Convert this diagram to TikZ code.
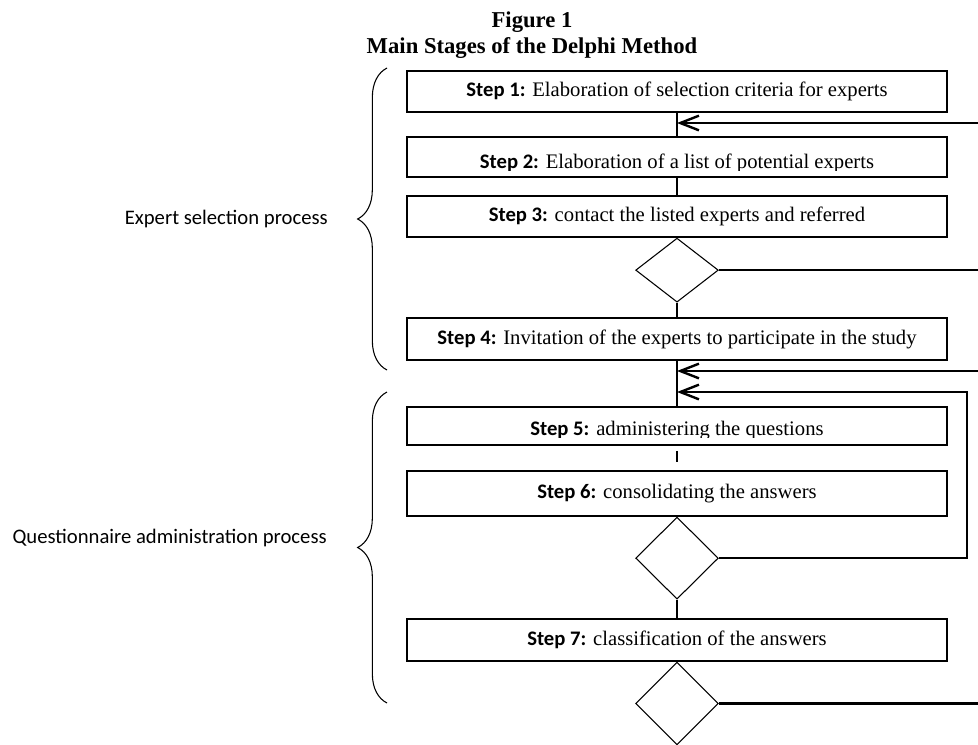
\documentclass[tikz,border=0pt]{standalone}
\usepackage{fontspec}
\setmainfont{Liberation Serif}
\newfontfamily\calibri{Carlito}
\usepackage{tikz}
\usetikzlibrary{shapes.geometric,arrows.meta,decorations.pathreplacing,calc}
\newcommand{\stp}[1]{{\calibri\bfseries Step #1:}}

\begin{document}
\begin{tikzpicture}[x=0.75pt,y=-0.75pt,font=\fontsize{15.5}{18}\selectfont,
  stepbox/.style={draw,line width=0.9pt,minimum width=405pt,inner sep=0pt},
  decide/.style={draw,diamond,line width=0.8pt,minimum width=62pt,inner sep=0pt},
  link/.style={line width=0.8pt},
  back/.style={line width=1.8pt,-{Straight Barb[length=14pt,width=11pt]}},
  outline/.style={line width=1.8pt},
  curly/.style={decorate,decoration={brace,amplitude=22pt},line width=0.8pt},
  side/.style={font=\calibri\fontsize{15.5}{18}\selectfont,anchor=east,inner sep=0pt}]
\useasboundingbox (0,0) rectangle (978,744);
\node[font=\bfseries\fontsize{17}{19.5}\selectfont,align=center,anchor=north,inner sep=0pt] (title) at (532,11) {Figure 1\\Main Stages of the Delphi Method};

% expert selection
\node[stepbox,minimum height=30.75pt] (s1) at (677,91.5) {\stp{1} Elaboration of selection criteria for experts};
\node[stepbox,minimum height=30pt] (s2) at (677,157) {};
\node[stepbox,minimum height=30.75pt] (s3) at (677,216.5) {\stp{3} contact the listed experts and referred};
\node[decide,minimum height=48pt,anchor=north] (d1) at (s3.south) {};
\node[stepbox,minimum height=31.5pt] (s4) at (677,339) {\stp{4} Invitation of the experts to participate in the study};
% questionnaire rounds
\node[stepbox,minimum height=28.5pt] (s5) at (677,426) {};
\node[stepbox,minimum height=33.75pt] (s6) at (677,493.5) {\stp{6} consolidating the answers};
\node[decide,minimum height=61.5pt,anchor=north] (d2) at (s6.south) {};
\node[stepbox,minimum height=31.5pt] (s7) at (677,640) {\stp{7} classification of the answers};
\node[decide,minimum height=62pt,anchor=north] (d3) at (s7.south) {};

% texts cut at the foot of their box
\begin{scope}
\clip (s2.north west) rectangle ($(s2.south east)+(0,-7)$);
\node[anchor=base] at ($(s2.south)+(0,-9)$) {\stp{2} Elaboration of a list of potential experts};
\end{scope}
\begin{scope}
\clip (s5.north west) rectangle ($(s5.south east)+(0,-8)$);
\node[anchor=base] at ($(s5.south)+(0,-10)$) {\stp{5} administering the questions};
\end{scope}

\draw[link] (s1) -- (s2);
\draw[link] (s2) -- (s3);
\draw[link] (d1) -- (s4);
\draw[link] (s4) -- (s5);
\draw[link,shorten <=4pt,shorten >=6pt] (s5) -- (s6);
\draw[link] (d2) -- (s7);

% returns from the right
\coordinate (in1) at (978,123);
\coordinate (in2) at (978,371);
\coordinate (loop) at (967,392);
\draw[back] (in1) -- (in1 -| s1.south);
\draw[outline] (d1.east) -- (d1.east -| in1);
\draw[back] (in2) -- (in2 -| s4.south);
\draw[back] (d2.east) -| (loop) -- (loop -| s5.north);
\draw[outline] (d3.east) -- (d3.east -| in1);

% braces
\draw[curly] (387,370) -- (387,68);
\draw[curly] (387,703) -- (387,392);
\node[side] (sel) at (328,219) {Expert selection process};
\node[side] (qst) at (327,538) {Questionnaire administration process};
\end{tikzpicture}
\end{document}
